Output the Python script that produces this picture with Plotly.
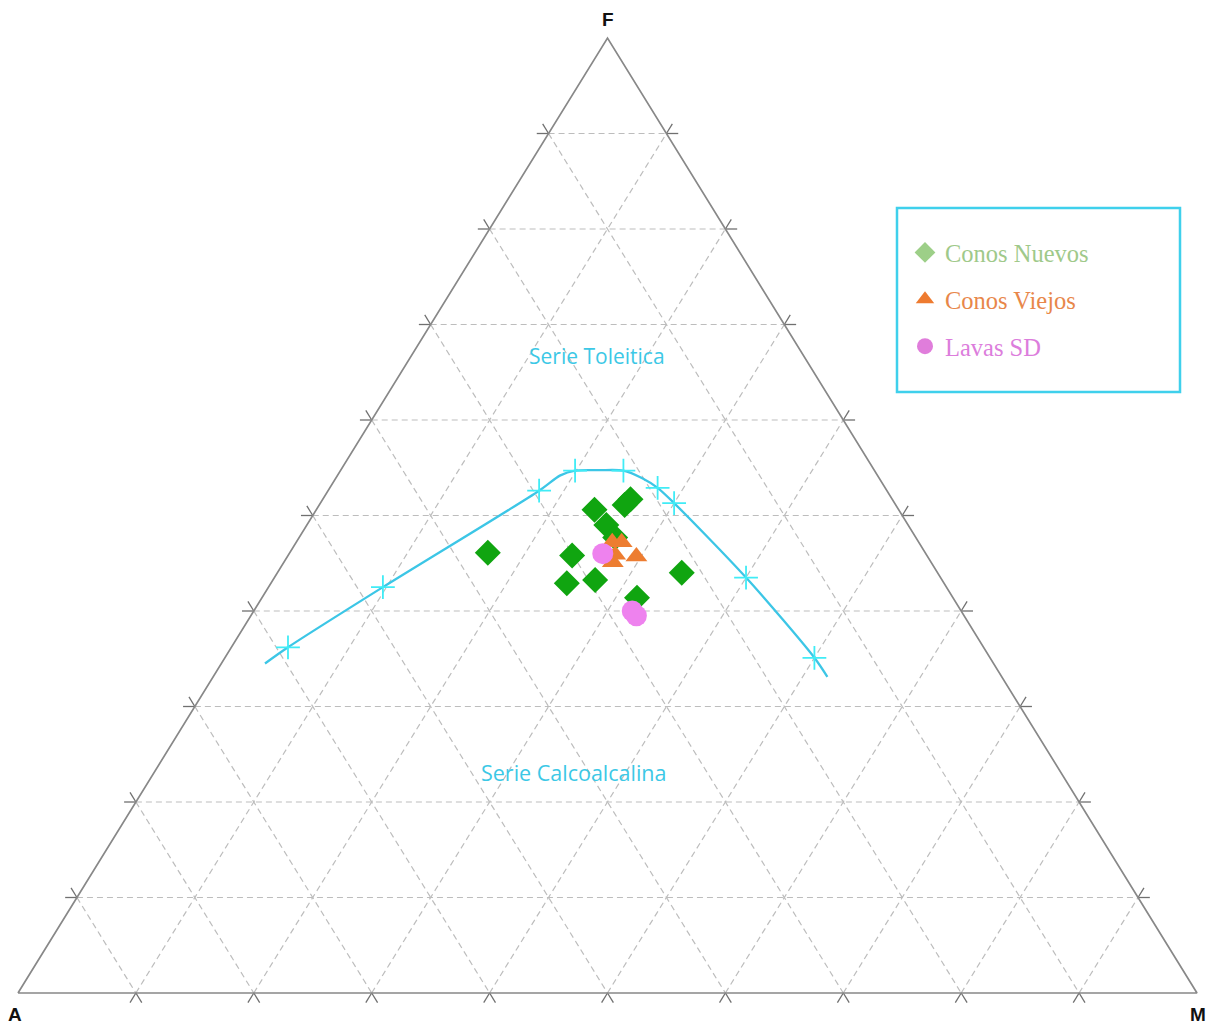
import plotly.graph_objects as go

# ---- sample compositions (A, F, M in %) ----
nuevos_A = [37.1, 25.8, 22.2, 23.0, 25.6, 25.5, 30.1, 32.0, 29.4, 21.7, 26.8]
nuevos_F = [46.1, 50.6, 51.7, 51.1, 49.0, 47.7, 45.8, 42.9, 43.2, 44.0, 41.4]
nuevos_M = [16.8, 23.6, 26.1, 25.9, 25.4, 26.8, 24.1, 25.1, 27.3, 34.3, 31.8]

viejos_A = [26.0, 25.2, 26.4, 27.0, 24.7]
viejos_F = [47.2, 47.2, 45.9, 45.1, 45.7]
viejos_M = [26.8, 27.6, 27.7, 27.9, 29.6]

lavas_A = [27.4, 27.9, 27.8]
lavas_F = [46.0, 40.0, 39.5]
lavas_M = [26.6, 32.1, 32.7]

# ---- tholeiitic / calc-alkaline dividing curve ----
curve_A = [61.8, 59.0, 47.8, 29.5, 26.9, 25.4, 23.3, 21.3, 20.1, 19.3, 18.7, 16.5, 14.9, 14.8]
curve_F = [34.5, 36.2, 42.5, 52.6, 54.2, 54.7, 54.8, 54.7, 53.9, 52.9, 51.3, 43.5, 35.1, 33.1]
curve_M = [3.7, 4.8, 9.7, 17.9, 18.9, 19.9, 22.0, 24.0, 26.0, 27.8, 30.0, 40.0, 50.0, 52.1]
curve_node = [False, True, True, True, False, True, False, True, False, True, True, True, True, False]

grid_levels = [0.1, 0.2, 0.3, 0.4, 0.5, 0.6, 0.7, 0.8, 0.9]

W, H = 1212, 1024
# plot frame in pixels: A at (18, 993), M at (1197, 993), F apex at y = 38
PX0, PX1, PY0, PY1 = 18, 1197, 993, 38
SX = PX1 - PX0
SY = PY0 - PY1


def to_xy(a, f, m):
    s = a + f + m
    f_, m_ = f / s, m / s
    return m_ + f_ / 2.0, f_


def pts(A, F, M):
    xs, ys = [], []
    for a, f, m in zip(A, F, M):
        x, y = to_xy(a, f, m)
        xs.append(x)
        ys.append(y)
    return xs, ys


fig = go.Figure()

# ---- grid lines (dashed) and outer tick extensions (solid) ----
e = 0.01
gx, gy, tx, ty = [], [], [], []
for k in grid_levels:
    fams = [
        # constant F
        ((1 - k, k, 0), (0, k, 1 - k), (1 - k + e, k, -e), (-e, k, 1 - k + e)),
        # constant A
        ((k, 1 - k, 0), (k, 0, 1 - k), (k, 1 - k + e, -e), (k, -e, 1 - k + e)),
        # constant M
        ((1 - k, 0, k), (0, 1 - k, k), (1 - k + e, -e, k), (-e, 1 - k + e, k)),
    ]
    for p1, p2, o1, o2 in fams:
        x1, y1 = to_xy(*p1)
        x2, y2 = to_xy(*p2)
        gx += [x1, x2, None]
        gy += [y1, y2, None]
        for p, o in ((p1, o1), (p2, o2)):
            xa, ya = to_xy(*p)
            # outward ends lie just outside the simplex
            xb, yb = o[2] + o[1] / 2.0, o[1]
            tx += [xa, xb, None]
            ty += [ya, yb, None]

fig.add_trace(go.Scatter(x=gx, y=gy, mode="lines", hoverinfo="skip", showlegend=False,
                         line=dict(color="#bdbdbd", width=1.2, dash="6px,4px")))
fig.add_trace(go.Scatter(x=tx, y=ty, mode="lines", hoverinfo="skip", showlegend=False,
                         line=dict(color="#707070", width=1.3)))

# ---- triangle frame ----
corners = [(1, 0, 0), (0, 1, 0), (0, 0, 1), (1, 0, 0)]
fx, fy = zip(*[to_xy(*c) for c in corners])
fig.add_trace(go.Scatter(x=list(fx), y=list(fy), mode="lines", hoverinfo="skip", showlegend=False,
                         line=dict(color="#888888", width=1.7)))

# ---- dividing curve ----
cx, cy = pts(curve_A, curve_F, curve_M)
fig.add_trace(go.Scatter(x=cx, y=cy, mode="lines", showlegend=False, hoverinfo="skip",
                         line=dict(color="#3cc6e6", width=2.3, shape="spline", smoothing=0.8)))
nx = [x for x, n in zip(cx, curve_node) if n]
ny = [y for y, n in zip(cy, curve_node) if n]
fig.add_trace(go.Scatter(x=nx, y=ny, mode="markers", showlegend=False, hoverinfo="skip",
                         marker=dict(symbol="cross-thin", size=17,
                                     line=dict(color="#40ecf6", width=1.8))))

# ---- samples ----
x, y = pts(nuevos_A, nuevos_F, nuevos_M)
fig.add_trace(go.Scatter(x=x, y=y, mode="markers", name="Conos Nuevos", showlegend=False,
                         marker=dict(symbol="diamond", size=20, color="#10a510")))
x, y = pts(viejos_A, viejos_F, viejos_M)
fig.add_trace(go.Scatter(x=x, y=y, mode="markers", name="Conos Viejos", showlegend=False,
                         marker=dict(symbol="triangle-up", size=19, color="#ed7d31")))
x, y = pts(lavas_A, lavas_F, lavas_M)
fig.add_trace(go.Scatter(x=x, y=y, mode="markers", name="Lavas SD", showlegend=False,
                         marker=dict(symbol="circle", size=21, color="#ee82ee")))

# ---- legend entries ----
legend_items = [
    ("Conos Nuevos", "diamond", "#9dcf88", "#9fc98a"),
    ("Conos Viejos", "triangle-up", "#ee7b30", "#e8874a"),
    ("Lavas SD", "circle", "#e07ddb", "#dc7ddc"),
]
for i, (name, sym, mcol, tcol) in enumerate(legend_items):
    fig.add_trace(go.Scatter(x=[None], y=[None], mode="markers",
                             name=f'<span style="color:{tcol}">{name}</span>',
                             legendgroup=f"g{i}", showlegend=True,
                             marker=dict(symbol=sym, size=16, color=mcol)))

# ---- region labels ----
fig.add_annotation(x=0.491, y=0.667, text="Serie Toleitica", showarrow=False,
                   font=dict(family="Open Sans", size=21, color="#3cc8e6"))
fig.add_annotation(x=0.4716, y=0.2304, text="Serie Calcoalcalina", showarrow=False,
                   font=dict(family="Open Sans", size=21.5, color="#3cc8e6"))

# ---- vertex labels ----
lab_font = dict(family="Liberation Sans", size=19, color="#111111")
fig.add_annotation(x=0, y=0, text="<b>A</b>", showarrow=False, xshift=-3, yshift=-21, font=lab_font)
fig.add_annotation(x=0.5, y=1, text="<b>F</b>", showarrow=False, yshift=19, font=lab_font)
fig.add_annotation(x=1, y=0, text="<b>M</b>", showarrow=False, xshift=1, yshift=-21, font=lab_font)

# legend frame
fig.add_shape(type="rect", xref="paper", yref="paper",
              x0=897 / W, x1=1180 / W, y0=1 - 392 / H, y1=1 - 208 / H,
              line=dict(color="#3fd0ec", width=2.5), fillcolor="rgba(0,0,0,0)")

fig.update_layout(
    width=W, height=H,
    margin=dict(l=0, r=0, t=0, b=0),
    paper_bgcolor="white", plot_bgcolor="white",
    xaxis=dict(range=[-PX0 / SX, (W - PX0) / SX], visible=False, fixedrange=True),
    yaxis=dict(range=[-(H - PY0) / SY, PY0 / SY], visible=False, fixedrange=True),
    legend=dict(x=905 / W, y=1 - 230 / H, xanchor="left", yanchor="top",
                bgcolor="rgba(0,0,0,0)", borderwidth=0,
                font=dict(family="Liberation Serif", size=24.5),
                traceorder="grouped", tracegroupgap=12, itemsizing="trace"),
    showlegend=True,
)

fig.write_html("out.html")
